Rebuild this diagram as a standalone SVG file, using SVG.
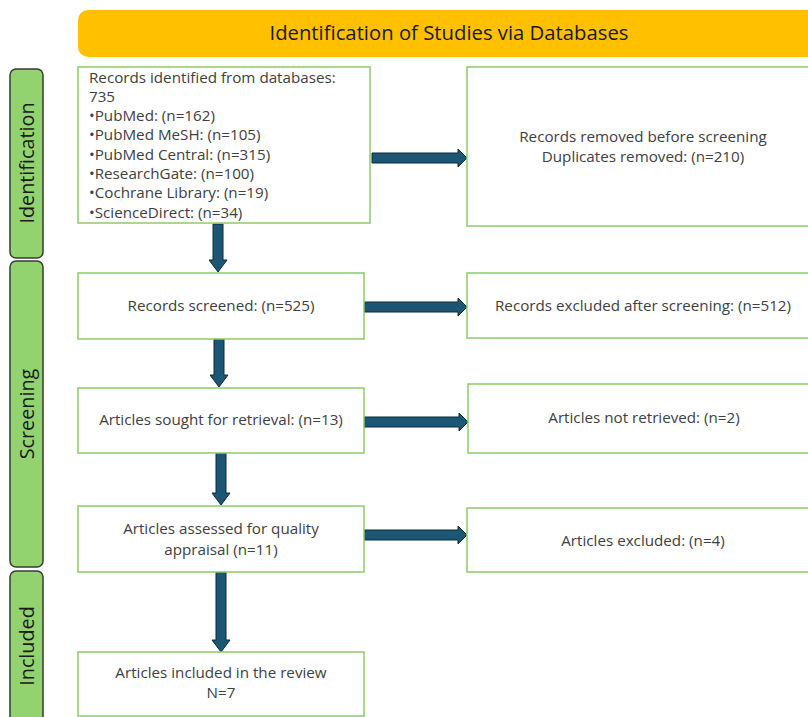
<svg xmlns="http://www.w3.org/2000/svg" width="808" height="717" viewBox="0 0 808 717">
<style>
.box{fill:#fff;stroke:#8CCB6A;stroke-width:1.5}
.phase{fill:#92D36F;stroke:#3a3a3a;stroke-width:1.5}
.t{font-family:"Open Sans","Liberation Sans",Arial,sans-serif;font-size:15.2px;fill:#404040}
.c{text-anchor:middle}
.ph{font-family:"Open Sans","Liberation Sans",Arial,sans-serif;font-size:19.8px;fill:#1a1a1a;text-anchor:middle}
.arr{fill:#1B5674;stroke:#0E2A3A;stroke-width:1}
</style>
<rect width="808" height="717" fill="#fff"/>
<g id="header">
<rect x="78" y="10" width="750" height="47" rx="10" fill="#FFC000"/>
<text x="449" y="40" class="ph" style="font-size:20.3px">Identification of Studies via Databases</text>
</g>
<g id="phase-identification">
<rect x="10" y="69" width="33" height="189" rx="6" class="phase"/>
<text class="ph" transform="translate(34,163) rotate(-90)">Identification</text>
</g>
<g id="phase-screening">
<rect x="10" y="261" width="33" height="306" rx="6" class="phase"/>
<text class="ph" transform="translate(34,414) rotate(-90)">Screening</text>
</g>
<g id="phase-included">
<rect x="10" y="571" width="33" height="160" rx="6" class="phase"/>
<text class="ph" transform="translate(34,646) rotate(-90)">Included</text>
</g>
<g id="connectors">
<path class="arr" d="M372,153 H458 V149 L467,158 L458,167 V163 H372 Z"/>
<path class="arr" d="M364,302 H458 V298 L467,307 L458,316 V312 H364 Z"/>
<path class="arr" d="M364,417 H459 V413 L468,422 L459,431 V427 H364 Z"/>
<path class="arr" d="M364,530 H458 V526 L467,535 L458,544 V540 H364 Z"/>
<path class="arr" d="M213,224 V260 H209 L218,272 L227,260 H223 V224 Z"/>
<path class="arr" d="M214,339 V375 H210 L219,387 L228,375 H224 V339 Z"/>
<path class="arr" d="M216,453 V493 H212 L221,505 L230,493 H226 V453 Z"/>
<path class="arr" d="M216,572 V640 H212 L221,652 L230,640 H226 V572 Z"/>
</g>
<g id="identified">
<rect x="78" y="67" width="292" height="156" class="box"/>
<text class="t" x="89" y="82.5">Records identified from databases:</text>
<text class="t" x="89" y="101.8">735</text>
<text class="t" x="89" y="121.1">•PubMed: (n=162)</text>
<text class="t" x="89" y="140.4">•PubMed MeSH: (n=105)</text>
<text class="t" x="89" y="159.7">•PubMed Central: (n=315)</text>
<text class="t" x="89" y="179">•ResearchGate: (n=100)</text>
<text class="t" x="89" y="198.3">•Cochrane Library: (n=19)</text>
<text class="t" x="89" y="217.6">•ScienceDirect: (n=34)</text>
</g>
<g id="removed">
<rect x="467" y="67" width="360" height="159" class="box"/>
<text class="t c" x="643" y="142">Records removed before screening</text>
<text class="t c" x="643" y="162">Duplicates removed: (n=210)</text>
</g>
<g id="screened">
<rect x="78" y="273" width="286" height="66" class="box"/>
<text class="t c" x="221" y="311">Records screened: (n=525)</text>
</g>
<g id="excluded-screening">
<rect x="467" y="273" width="360" height="65" class="box"/>
<text class="t c" x="643" y="311">Records excluded after screening: (n=512)</text>
</g>
<g id="sought">
<rect x="78" y="388" width="286" height="65" class="box"/>
<text class="t c" x="221" y="425">Articles sought for retrieval: (n=13)</text>
</g>
<g id="not-retrieved">
<rect x="468" y="384" width="360" height="69" class="box"/>
<text class="t c" x="644" y="423">Articles not retrieved: (n=2)</text>
</g>
<g id="assessed">
<rect x="78" y="506" width="286" height="66" class="box"/>
<text class="t c" x="221" y="534">Articles assessed for quality</text>
<text class="t c" x="221" y="555">appraisal (n=11)</text>
</g>
<g id="excluded">
<rect x="467" y="508" width="360" height="64" class="box"/>
<text class="t c" x="643" y="546">Articles excluded: (n=4)</text>
</g>
<g id="included">
<rect x="78" y="652" width="286" height="64" class="box"/>
<text class="t c" x="221" y="678">Articles included in the review</text>
<text class="t c" x="221" y="698">N=7</text>
</g>
</svg>
